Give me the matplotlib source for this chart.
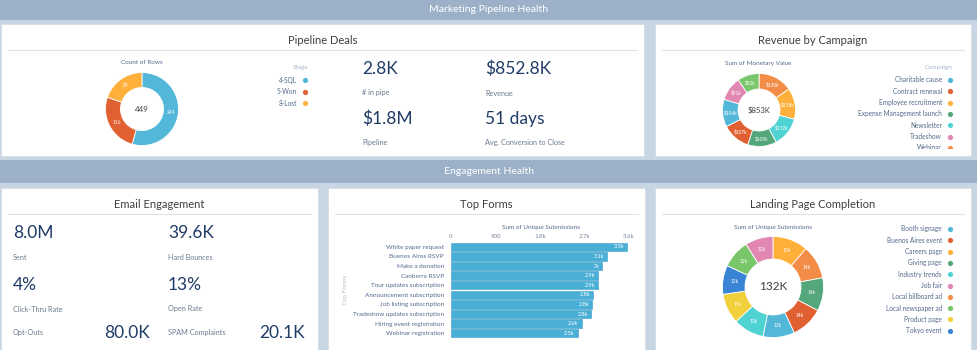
import matplotlib
matplotlib.use("Agg")
import matplotlib.pyplot as plt
from matplotlib.patches import Rectangle
import numpy as np

plt.rcParams['font.family'] = ['Lato', 'DejaVu Sans']

# ---- data ----
stages = ['4-SQL', '5-Won', '8-Lost']
stage_counts = [244, 116, 89]

campaigns = ['Charitable cause', 'Contract renewal', 'Employee recruitment',
             'Expense Management launch', 'Newsletter', 'Tradeshow', 'Webinar', 'Website']
campaign_revenue_k = [104, 107, 118, 109, 112, 91, 130, 82]

pipeline_kpis = [('2.8K', '# in pipe'), ('$852.8K', 'Revenue'),
                 ('$1.8M', 'Pipeline'), ('51 days', 'Avg. Conversion to Close')]
email_kpis = [('8.0M', 'Sent'), ('39.6K', 'Hard Bounces'),
              ('4%', 'Click-Thru Rate'), ('13%', 'Open Rate')]
email_bottom = [('80.0K', 'Opt-Outs'), ('20.1K', 'SPAM Complaints')]

forms = ['White paper request', 'Buenos Aires RSVP', 'Make a donation', 'Canberra RSVP',
         'Tour updates subscription', 'Announcement subscription', 'Job listing subscription',
         'Tradeshow updates subscription', 'Hiring event registration', 'Webinar registration']
form_submissions = [3560, 3150, 3060, 2980, 2970, 2870, 2850, 2840, 2640, 2560]
form_labels = ['3.5k', '3.1k', '3k', '2.9k', '2.9k', '2.8k', '2.8k', '2.8k', '2.6k', '2.5k']
form_ticks = [0, 900, 1800, 2700, 3600]
form_tick_labels = ['0', '900', '1.8k', '2.7k', '3.6k']

pages = ['Booth signage', 'Buenos Aires event', 'Careers page', 'Giving page', 'Industry trends',
         'Job fair', 'Local billboard ad', 'Local newspaper ad', 'Product page', 'Tokyo event']
page_submissions_k = [13.3, 13.7, 14.9, 14.0, 13.0, 11.8, 14.2, 12.0, 12.7, 12.2]

palette = ['#52B7D8', '#E16032', '#FFB03B', '#54A77B', '#4FD2D2',
           '#E287B2', '#F38C47', '#7AC66A', '#F2D03C', '#3A84D6']

# ---- figure / background ----
W, H = 977, 350
BG = '#C8D5E3'
BAND = '#9CB1C8'
TITLE_C = '#3E3E3C'
NAVY = '#1F3B66'
LABEL_C = '#6B7A8F'

fig = plt.figure(figsize=(W / 100, H / 100), dpi=100)
fig.patch.set_facecolor(BG)
bg = fig.add_axes([0, 0, 1, 1])
bg.set_xlim(0, W)
bg.set_ylim(H, 0)
bg.axis('off')


def add_px_axes(x0, y0, x1, y1):
    return fig.add_axes([x0 / W, 1 - y1 / H, (x1 - x0) / W, (y1 - y0) / H])


def band(y0, y1, text):
    bg.add_patch(Rectangle((0, y0), W, y1 - y0, color=BAND, lw=0))
    bg.text(W / 2, (y0 + y1) / 2, text, color='white', fontsize=7.5,
            ha='center', va='center')


def panel(x0, y0, x1, y1, title):
    bg.add_patch(Rectangle((x0, y0), x1 - x0, y1 - y0, facecolor='white',
                           edgecolor='#D5DCE5', lw=0.6))
    bg.text((x0 + x1) / 2, y0 + 16, title, color=TITLE_C, fontsize=8,
            ha='center', va='center')
    bg.plot([x0 + 7, x1 - 7], [y0 + 26, y0 + 26], color='#DDE3EA', lw=0.8)


def donut(cx, cy, r_out, r_in, values, colors, center, labels, order=None):
    ax = add_px_axes(cx - r_out, cy - r_out, cx + r_out, cy + r_out)
    vals = list(values)
    cols = list(colors)
    labs = list(labels)
    if order is not None:
        vals = [vals[i] for i in order]
        cols = [cols[i] for i in order]
        labs = [labs[i] for i in order]
    wedges, _ = ax.pie(vals, colors=cols, startangle=90, counterclock=False, radius=1,
                       wedgeprops=dict(width=1 - r_in / r_out, edgecolor='white', linewidth=0.6))
    ax.set_xlim(-1, 1)
    ax.set_ylim(-1, 1)
    mid_r = (1 + r_in / r_out) / 2
    for w, lab in zip(wedges, labs):
        a = np.deg2rad((w.theta1 + w.theta2) / 2)
        ax.text(mid_r * np.cos(a), mid_r * np.sin(a), lab, color='white',
                fontsize=3.4, ha='center', va='center')
    ax.text(0, 0, center[0], color=TITLE_C, fontsize=center[1], ha='center', va='center')
    return ax


def legend(items, colors, x_text, x_dot, y0, dy):
    for i, (name, c) in enumerate(zip(items, colors)):
        y = y0 + i * dy
        bg.text(x_text, y, name, color='#54698D', fontsize=4.7, ha='right', va='center')
        bg.scatter([x_dot], [y], s=14, color=c, lw=0)


# bands
band(0, 20, 'Marketing Pipeline Health')
band(160, 183, 'Engagement Health')

# ---- Pipeline Deals ----
panel(1, 24, 644, 156, 'Pipeline Deals')
bg.text(142, 62, 'Count of Rows', color='#54698D', fontsize=4.6, ha='center', va='center')
donut(142, 109, 36.5, 21.5, stage_counts, palette[:3],
      (str(sum(stage_counts)), 5.8), [str(v) for v in stage_counts])
bg.text(308, 67, 'Stage', color='#A8B7C7', fontsize=4.6, ha='right', va='center')
legend(stages, palette[:3], 297, 305, 80, 11.5)

kpi_pos = [(362, 69), (485, 69), (362, 119), (485, 119)]
for (val, lab), (x, y) in zip(pipeline_kpis, kpi_pos):
    bg.text(x, y, val, color=NAVY, fontsize=12.5, ha='left', va='center')
    bg.text(x, y + 24, lab, color=LABEL_C, fontsize=5.2, ha='left', va='center')

# ---- Revenue by Campaign ----
panel(655, 24, 971, 156, 'Revenue by Campaign')
bg.text(758, 63, 'Sum of Monetary Value', color='#54698D', fontsize=4.6, ha='center', va='center')
rev_order = list(np.argsort(campaign_revenue_k)[::-1])
donut(759, 110, 36.5, 21, campaign_revenue_k, palette[:len(campaigns)],
      ('$%dK' % sum(campaign_revenue_k), 5.5), ['$%dk' % v for v in campaign_revenue_k],
      order=rev_order)
bg.text(953, 67, 'Campaign', color='#A8B7C7', fontsize=4.6, ha='right', va='center')
# legend is scrolled: only the first rows fit, the 7th is cut by the panel edge
legend(campaigns[:7], palette[:7], 942, 950, 80, 11.3)
bg.add_patch(Rectangle((860, 148.5), 105, 7, facecolor='white', lw=0, zorder=5))

# ---- Email Engagement ----
panel(1, 188, 318, 352, 'Email Engagement')
email_pos = [(13, 233), (168, 233), (13, 285), (168, 285)]
for (val, lab), (x, y) in zip(email_kpis, email_pos):
    bg.text(x, y, val, color=NAVY, fontsize=12.5, ha='left', va='center')
    bg.text(x, y + 24, lab, color=LABEL_C, fontsize=5.2, ha='left', va='center')
for (val, lab), (x_lab, x_val) in zip(email_bottom, [(13, 150), (168, 305)]):
    bg.text(x_lab, 332, lab, color=LABEL_C, fontsize=5.2, ha='left', va='center')
    bg.text(x_val, 333, val, color=NAVY, fontsize=12.5, ha='right', va='center')

# ---- Top Forms ----
panel(328, 188, 645, 352, 'Top Forms')
bg.text(541, 227, 'Sum of Unique Submissions', color='#54698D', fontsize=4.6, ha='center', va='center')
bg.text(346, 290, 'Top Forms', color='#B5C0CC', fontsize=4.6, rotation=90, ha='center', va='center')
ax = add_px_axes(451, 242, 629, 338)
y = np.arange(len(forms))
ax.barh(y, form_submissions, height=0.86, color='#4AAFD6', edgecolor='#3C9FC8', lw=0.4)
ax.set_xlim(0, 3600)
ax.set_ylim(len(forms) - 0.5, -0.5)
ax.set_yticks(y)
ax.set_yticklabels(forms, fontsize=4.6, color='#54698D')
ax.xaxis.tick_top()
ax.set_xticks(form_ticks)
ax.set_xticklabels(form_tick_labels, fontsize=4.4, color='#7A8999')
ax.tick_params(length=0, pad=2)
ax.tick_params(axis='y', pad=5)
for s in ax.spines.values():
    s.set_visible(False)
ax.patch.set_alpha(0)
for yi, v, lab in zip(y, form_submissions, form_labels):
    ax.text(v - 60, yi, lab, color='white', fontsize=4.0, ha='right', va='center')

# ---- Landing Page Completion ----
panel(655, 188, 971, 352, 'Landing Page Completion')
bg.text(773, 227, 'Sum of Unique Submissions', color='#54698D', fontsize=4.6, ha='center', va='center')
page_order = list(np.argsort(page_submissions_k, kind='stable')[::-1])
donut(773, 287, 50.5, 28, page_submissions_k, palette,
      ('%dK' % round(sum(page_submissions_k)), 8.5),
      ['%dk' % round(v) for v in page_submissions_k], order=page_order)
legend(pages, palette, 942, 950, 229, 11.3)

fig.savefig('out.png', dpi=100, facecolor=fig.get_facecolor())
